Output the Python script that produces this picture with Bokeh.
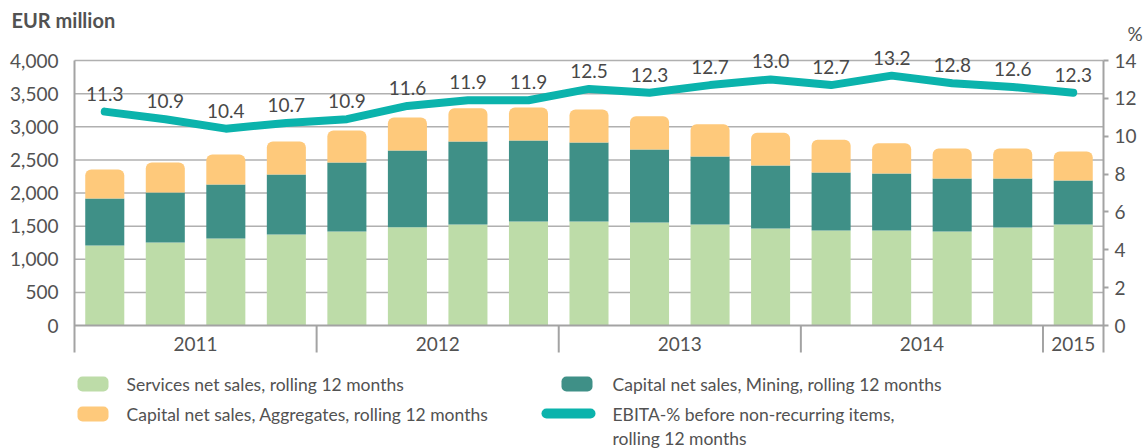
import numpy as np
from bokeh.plotting import figure
from bokeh.models import Range1d, LinearAxis, FixedTicker, NumeralTickFormatter
from bokeh.embed import file_html
from bokeh.resources import INLINE
from bokeh.core.properties import value

# ---------------- data ----------------
years = ["2011", "2012", "2013", "2014", "2015"]
bars_per_year = [4, 4, 4, 4, 1]
services = [1207, 1253, 1313, 1374, 1419, 1484, 1524, 1570, 1570, 1555, 1524, 1464, 1434, 1434, 1419, 1479, 1524]
mining = [710, 754, 815, 905, 1041, 1157, 1253, 1222, 1192, 1101, 1026, 951, 875, 860, 800, 740, 664]
aggregates = [438, 453, 453, 498, 483, 499, 503, 498, 498, 504, 489, 493, 493, 458, 453, 453, 438]
ebita = [11.3, 10.9, 10.4, 10.7, 10.9, 11.6, 11.9, 11.9, 12.5, 12.3, 12.7, 13.0, 12.7, 13.2, 12.8, 12.6, 12.3]
left_ticks = [0, 500, 1000, 1500, 2000, 2500, 3000, 3500, 4000]
right_ticks = [0, 2, 4, 6, 8, 10, 12, 14]

title_text = "EUR million"
pct_text = "%"
legend_labels = ["Services net sales, rolling 12 months",
                 "Capital net sales, Aggregates, rolling 12 months",
                 "Capital net sales, Mining, rolling 12 months",
                 "EBITA-% before non-recurring items,",
                 "rolling 12 months"]

# ---------------- style / layout ----------------
C_SERV = "#bddca8"
C_MIN = "#3f9087"
C_AGG = "#fec97b"
C_LINE = "#0bb3ac"
C_TEXT = "#525252"
C_AXIS = "#a3a3a3"
C_GRID = "#b0b0b0"
FONT = "Lato"
FS = "19px"

PX_W, PX_H = 1146, 448
AX_L, AX_R, AX_T, AX_B = 74, 1103, 60, 352   # plot-area edges in pixels
ZERO_PX = 325
YMAX = 4000
PMAX = 14

n = len(services)
x = np.arange(n)
xu = n / (AX_R - AX_L)                 # data units per pixel (x)
x_start = -0.5 - AX_L * xu
x_end = (n - 0.5) + (PX_W - AX_R) * xu
yu = YMAX / (ZERO_PX - AX_T)           # data units per pixel (y)
y_start = -(PX_H - ZERO_PX) * yu
y_end = YMAX + AX_T * yu
y_axis_bottom = -(AX_B - ZERO_PX) * yu
pk = PMAX / YMAX

p = figure(width=PX_W, height=PX_H, x_range=Range1d(x_start, x_end),
           y_range=Range1d(y_start, y_end), output_backend="svg",
           toolbar_location=None, x_axis_location=None, y_axis_location=None,
           min_border=0)
p.outline_line_color = None
p.grid.visible = False
p.extra_y_ranges = {"pct": Range1d(y_start * pk, y_end * pk), "py": Range1d(PX_H, 0)}
p.extra_x_ranges = {"px": Range1d(0, PX_W)}

# left axis
la = LinearAxis(fixed_location=-0.5, bounds=(y_axis_bottom, YMAX),
                ticker=FixedTicker(ticks=left_ticks),
                formatter=NumeralTickFormatter(format="0,0"))
la.axis_line_color = C_AXIS
la.axis_line_width = 2
la.major_tick_in = 0
la.major_tick_out = 0
la.minor_tick_line_color = None
la.major_label_standoff = 16
la.major_label_text_font = FONT
la.major_label_text_font_size = FS
la.major_label_text_color = C_TEXT
p.add_layout(la, "left")

# right axis
ra = LinearAxis(y_range_name="pct", fixed_location=n - 0.5,
                bounds=(y_axis_bottom * pk, PMAX),
                ticker=FixedTicker(ticks=right_ticks))
ra.axis_line_color = C_AXIS
ra.axis_line_width = 2
ra.major_tick_in = 0
ra.major_tick_out = 5
ra.major_tick_line_color = C_AXIS
ra.major_tick_line_width = 2
ra.minor_tick_line_color = None
ra.major_label_standoff = 6
ra.major_label_text_font = FONT
ra.major_label_text_font_size = FS
ra.major_label_text_color = C_TEXT
p.add_layout(ra, "right")

# horizontal gridlines
gt = np.array(left_ticks[1:], dtype=float)
p.segment(x0=-0.5, x1=n - 0.5, y0=gt, y1=gt, line_color=C_GRID, line_width=1.5)

# stacked bars
s = np.array(services, dtype=float)
m = np.array(mining, dtype=float)
a = np.array(aggregates, dtype=float)
bw = 0.645
p.vbar(x=x, width=bw, bottom=0, top=s, fill_color=C_SERV, line_color=None)
p.vbar(x=x, width=bw, bottom=s, top=s + m, fill_color=C_MIN, line_color=None)
p.vbar(x=x, width=bw, bottom=s + m, top=s + m + a, fill_color=C_AGG,
       line_color=None, border_radius=(6, 6, 0, 0))

# x axis baseline, year separators and year labels
p.segment(x0=-0.5, x1=n - 0.5, y0=0, y1=0, line_color=C_AXIS, line_width=2)
bounds = np.cumsum(bars_per_year)[:-1] - 0.5
p.segment(x0=bounds, y0=0, x1=bounds, y1=y_axis_bottom, line_color=C_AXIS, line_width=2)
starts = np.concatenate([[0], np.cumsum(bars_per_year)[:-1]])
centers = starts + (np.array(bars_per_year) - 1) / 2.0
p.text(x=centers, y=-(343 - ZERO_PX) * yu, text=years, text_align="center",
       text_baseline="middle", text_font=value(FONT), text_font_size=FS,
       text_color=C_TEXT)

# EBITA line and value labels
p.line(x=x, y=ebita, y_range_name="pct", line_color=C_LINE, line_width=8,
       line_join="round", line_cap="round")
p.text(x=x, y=ebita, text=[f"{v:.1f}" for v in ebita], y_range_name="pct",
       y_offset=-18, text_align="center", text_baseline="middle",
       text_font=value(FONT), text_font_size=FS, text_color="#484848")

# header texts (pixel coordinates)
p.text(x=[11], y=[19.5], text=[title_text], x_range_name="px", y_range_name="py",
       text_align="left", text_baseline="middle", text_font=value(FONT),
       text_font_style="bold", text_font_size="20px", text_color=C_TEXT)
p.text(x=[1127], y=[32.5], text=[pct_text], x_range_name="px", y_range_name="py",
       text_align="left", text_baseline="middle", text_font=value(FONT),
       text_font_size=FS, text_color=C_TEXT)

# legend (pixel coordinates)
p.quad(left=[77, 77, 561], right=[108, 108, 592], top=[376, 406, 376],
       bottom=[391, 421, 391], fill_color=[C_SERV, C_AGG, C_MIN],
       line_color=None, border_radius=5, x_range_name="px", y_range_name="py")
p.line(x=[546, 590], y=[413, 413], line_color=C_LINE, line_width=10,
       line_cap="round", x_range_name="px", y_range_name="py")
p.text(x=[126, 126, 612, 612, 612], y=[383.5, 413.5, 383.5, 413.5, 437.5],
       text=legend_labels, text_align="left", text_baseline="middle",
       text_font=value(FONT), text_font_size="17.5px", text_color=C_TEXT,
       x_range_name="px", y_range_name="py")

open("out.html", "w").write(file_html(p, INLINE))
